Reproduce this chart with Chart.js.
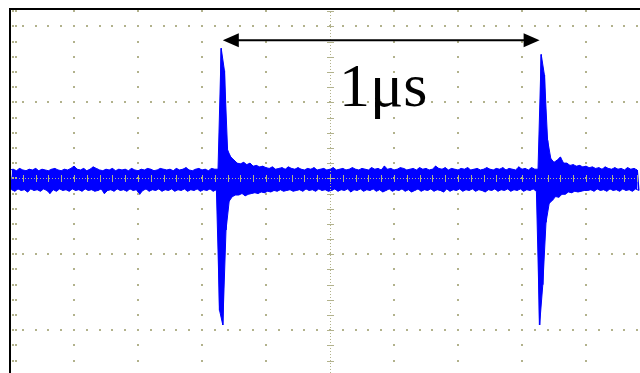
<!DOCTYPE html>
<html>
<head>
<meta charset="utf-8">
<script src="https://cdn.jsdelivr.net/npm/chart.js@4/dist/chart.umd.min.js"></script>
<style>
html,body{margin:0;padding:0;background:#fff;}
#c{display:block;}
</style>
</head>
<body>
<canvas id="c" width="640" height="373"></canvas>
<script>
// ---- data (time in µs, amplitude in screen divisions) ----
const SAMPLE_STEP = 0.01;      // µs per peak-detect bin
const traceMax = [
  0.11,0.12,0.10,0.13,0.11,0.10,0.12,0.11,0.13,0.10,
  0.12,0.11,0.10,0.12,0.13,0.11,0.10,0.12,0.11,0.13,
  0.16,0.12,0.11,0.13,0.10,0.12,0.15,0.13,0.11,0.10,
  0.12,0.11,0.13,0.10,0.12,0.11,0.12,0.10,0.13,0.11,
  0.10,0.12,0.11,0.13,0.12,0.10,0.11,0.13,0.12,0.11,
  0.12,0.10,0.13,0.11,0.12,0.14,0.11,0.10,0.12,0.13,
  0.11,0.12,0.10,0.13,0.12,
  0.12,1.71,1.42,0.37,0.28,
  0.24,0.20,0.19,0.21,0.18,0.20,0.16,0.17,0.15,0.16,
  0.14,0.13,0.15,0.12,0.13,0.14,0.12,0.15,0.13,0.12,
  0.14,0.12,0.11,0.13,0.12,0.14,0.11,0.12,0.13,0.11,
  0.12,0.14,0.11,0.12,0.13,0.11,0.12,0.14,0.12,0.11,
  0.13,0.12,0.11,0.14,0.12,0.13,0.11,0.16,0.12,0.13,
  0.11,0.12,0.14,0.13,0.11,0.12,0.13,0.11,0.14,0.12,
  0.13,0.11,0.12,0.16,0.13,0.12,0.14,0.11,0.13,0.12,
  0.11,0.13,0.12,0.14,0.11,0.12,0.13,0.11,0.12,0.14,
  0.12,0.11,0.13,0.12,0.14,0.11,0.13,0.12,0.11,0.15,
  0.12,0.13,0.11,0.14,0.12,
  0.12,1.63,1.36,0.50,0.26,
  0.21,0.24,0.28,0.20,0.20,0.17,0.18,0.16,0.17,0.15,
  0.16,0.14,0.15,0.13,0.14,0.12,0.15,0.13,0.12,0.14,
  0.12,0.13,0.11,0.14,0.12,0.13,0.11
];
const traceMin = [
  -0.15,-0.17,-0.14,-0.16,-0.15,-0.18,-0.14,-0.16,-0.15,-0.17,
  -0.14,-0.16,-0.20,-0.15,-0.17,-0.14,-0.16,-0.15,-0.17,-0.14,
  -0.16,-0.15,-0.17,-0.14,-0.16,-0.15,-0.17,-0.16,-0.14,-0.20,
  -0.16,-0.15,-0.17,-0.14,-0.16,-0.15,-0.17,-0.14,-0.16,-0.15,
  -0.21,-0.16,-0.14,-0.17,-0.15,-0.16,-0.14,-0.17,-0.15,-0.16,
  -0.14,-0.17,-0.15,-0.16,-0.14,-0.17,-0.15,-0.16,-0.14,-0.17,
  -0.15,-0.16,-0.14,-0.17,-0.15,
  -1.74,-1.93,-0.68,-0.30,-0.24,
  -0.22,-0.22,-0.20,-0.23,-0.21,-0.20,-0.19,-0.20,-0.18,-0.19,
  -0.17,-0.18,-0.16,-0.17,-0.15,-0.17,-0.16,-0.15,-0.17,-0.16,
  -0.15,-0.17,-0.14,-0.16,-0.15,-0.17,-0.14,-0.16,-0.15,-0.17,
  -0.16,-0.14,-0.17,-0.15,-0.16,-0.14,-0.18,-0.15,-0.16,-0.14,
  -0.17,-0.15,-0.16,-0.14,-0.17,-0.15,-0.18,-0.16,-0.14,-0.17,
  -0.15,-0.16,-0.14,-0.17,-0.15,-0.18,-0.16,-0.14,-0.17,-0.15,
  -0.16,-0.14,-0.17,-0.15,-0.16,-0.18,-0.14,-0.17,-0.15,-0.16,
  -0.14,-0.17,-0.15,-0.16,-0.14,-0.17,-0.15,-0.16,-0.18,-0.15,
  -0.16,-0.14,-0.17,-0.15,-0.16,-0.14,-0.17,-0.15,-0.16,-0.14,
  -0.17,-0.15,-0.16,-0.14,-0.17,
  -1.93,-1.40,-0.58,-0.33,-0.29,
  -0.24,-0.25,-0.21,-0.21,-0.18,-0.19,-0.17,-0.18,-0.17,-0.16,
  -0.16,-0.15,-0.17,-0.14,-0.16,-0.15,-0.17,-0.14,-0.16,-0.15,
  -0.17,-0.14,-0.16,-0.15,-0.17,-0.14,-0.16
];
// annotation: period marker between the two pulses
const markerTimes = [0.665, 1.655];   // µs
const markerLevel = 1.816;            // divisions
const markerLabel = "1\u03bcs";

// screen setup (10 x 8 division graticule, cropped)
const X_MIN = 0, X_MAX = 1.96875;     // µs visible
const Y_MIN = -2.562, Y_MAX = 2.228;  // divisions visible
const X_DIV = 0.2, Y_DIV = 1, SUBDIV = 5;

// ---- build the peak-detect trace (max then min in each bin) ----
const n = Math.min(traceMax.length, traceMin.length);
const tracePoints = [], upperPoints = [], lowerPoints = [];
for (let k = 0; k < n; k++) {
  const tMax = k * SAMPLE_STEP, tMin = k * SAMPLE_STEP + SAMPLE_STEP / 2;
  tracePoints.push({x: tMax, y: traceMax[k]});
  tracePoints.push({x: tMin, y: traceMin[k]});
  upperPoints.push({x: tMax, y: traceMax[k]});
  lowerPoints.push({x: tMin, y: traceMin[k]});
}

const graticule = {
  id: 'graticule',
  afterDatasetsDraw(chart) {
    const ctx = chart.ctx, xs = chart.scales.x, ys = chart.scales.y, a = chart.chartArea;
    ctx.save();
    ctx.fillStyle = 'rgb(178,178,140)';
    const dot = (x, y) => ctx.fillRect(Math.round(x) - 1, Math.round(y) - 1, 2, 2);
    const yMinorLo = Math.ceil(Y_MIN * SUBDIV), yMinorHi = Math.floor(Y_MAX * SUBDIV);
    const xMinorHi = Math.floor(X_MAX / X_DIV * SUBDIV);
    for (let i = 1; i * X_DIV < X_MAX; i++) {
      if (i === 5) continue;
      const px = xs.getPixelForValue(i * X_DIV);
      for (let m = yMinorLo; m <= yMinorHi; m++) dot(px, ys.getPixelForValue(m * Y_DIV / SUBDIV));
    }
    for (let j = Math.ceil(Y_MIN); j <= Math.floor(Y_MAX); j++) {
      if (j === 0) continue;
      const py = ys.getPixelForValue(j * Y_DIV);
      for (let m = 1; m <= xMinorHi; m++) dot(xs.getPixelForValue(m * X_DIV / SUBDIV), py);
    }
    for (let m = yMinorLo; m <= yMinorHi; m++) {
      const py = ys.getPixelForValue(m * Y_DIV / SUBDIV);
      dot(a.left + 3, py); dot(a.left + 6, py);
    }
    const cx = Math.round(xs.getPixelForValue(5 * X_DIV)), cy = Math.round(ys.getPixelForValue(0));
    for (let y = a.top; y < a.bottom; y += 3) ctx.fillRect(cx, y, 1, 1);
    for (let x = a.left; x < a.right; x += 3) ctx.fillRect(x, cy, 1, 1);
    for (let m = yMinorLo; m <= yMinorHi; m++) {
      const py = Math.round(ys.getPixelForValue(m * Y_DIV / SUBDIV));
      ctx.fillRect(cx - 3, py, 7, 1);
    }
    for (let m = 0; m <= xMinorHi; m++) {
      const px = Math.round(xs.getPixelForValue(m * X_DIV / SUBDIV));
      ctx.fillRect(px, cy - 3, 1, 7);
    }
    ctx.fillStyle = '#000';
    ctx.fillRect(a.left - 1, a.top - 1, 2, a.bottom - a.top + 1);
    ctx.fillRect(a.left - 1, a.top - 1, a.right - a.left + 1, 2);
    const x1 = xs.getPixelForValue(markerTimes[0]), x2 = xs.getPixelForValue(markerTimes[1]);
    const ay = ys.getPixelForValue(markerLevel);
    ctx.strokeStyle = '#000'; ctx.lineWidth = 2;
    ctx.beginPath(); ctx.moveTo(x1 + 10, ay); ctx.lineTo(x2 - 10, ay); ctx.stroke();
    ctx.beginPath(); ctx.moveTo(x1, ay); ctx.lineTo(x1 + 16, ay - 7); ctx.lineTo(x1 + 16, ay + 7); ctx.closePath(); ctx.fill();
    ctx.beginPath(); ctx.moveTo(x2, ay); ctx.lineTo(x2 - 16, ay - 7); ctx.lineTo(x2 - 16, ay + 7); ctx.closePath(); ctx.fill();
    ctx.font = '62px "Liberation Serif", "Times New Roman", serif';
    ctx.textAlign = 'center'; ctx.textBaseline = 'alphabetic';
    ctx.fillText(markerLabel, (x1 + x2) / 2 + 2, ay + 66);
    ctx.restore();
  }
};

new Chart(document.getElementById('c'), {
  type: 'line',
  data: {
    datasets: [
      {
        data: tracePoints,
        borderColor: '#0000ff',
        borderWidth: 1.5,
        borderJoinStyle: 'bevel',
        pointRadius: 0,
        tension: 0,
        fill: false
      },
      {
        data: upperPoints,
        borderColor: '#0000ff',
        borderWidth: 1,
        borderJoinStyle: 'bevel',
        pointRadius: 0,
        tension: 0,
        fill: false
      },
      {
        data: lowerPoints,
        borderColor: '#0000ff',
        backgroundColor: '#0000ff',
        borderWidth: 1,
        borderJoinStyle: 'bevel',
        pointRadius: 0,
        tension: 0,
        fill: '-1'
      }
    ]
  },
  options: {
    responsive: false,
    animation: false,
    devicePixelRatio: 1,
    layout: {padding: {left: 10, top: 9, right: 0, bottom: 0}},
    plugins: {legend: {display: false}, tooltip: {enabled: false}},
    scales: {
      x: {type: 'linear', min: X_MIN, max: X_MAX, display: false},
      y: {type: 'linear', min: Y_MIN, max: Y_MAX, display: false}
    }
  },
  plugins: [graticule]
});
</script>
</body>
</html>
